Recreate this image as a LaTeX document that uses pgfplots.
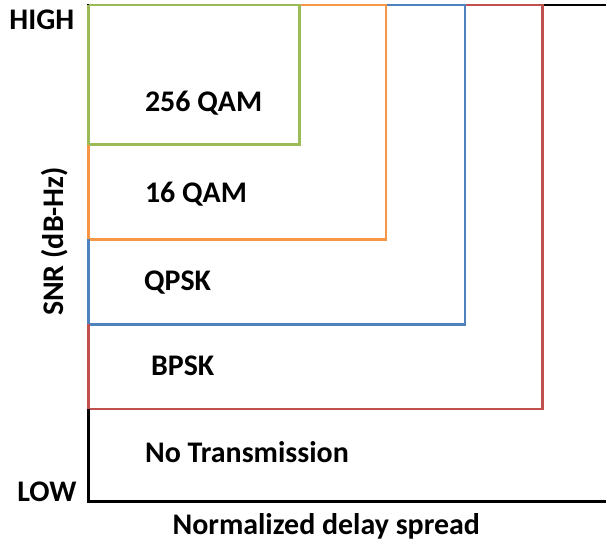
\documentclass[border=0pt]{standalone}
\usepackage{pgfplots}
\pgfplotsset{compat=1.18}
\usepackage{fontspec}
\setmainfont{Carlito}
\definecolor{cgreen}{RGB}{155,187,89}
\definecolor{corange}{RGB}{247,150,70}
\definecolor{cblue}{RGB}{79,129,189}
\definecolor{cred}{RGB}{192,80,77}
\begin{document}
\begin{tikzpicture}
\begin{axis}[
  scale only axis, width=259bp, height=249bp,
  xmin=0, xmax=518, ymin=0, ymax=498,
  hide axis, clip=false,
]
% region boundaries (pixel-like units)
\addplot[black, line width=1.4bp] coordinates {(518,498) (0,498) (0,0) (518,0)};
\addplot[cred, line width=1.3bp] coordinates {(0,498) (455,498) (455,93) (0,93)};
\addplot[cblue, line width=1.3bp] coordinates {(0,498) (377,498) (377,178) (0,178)};
\addplot[corange, line width=1.3bp] coordinates {(0,498) (298,498) (298,263) (0,263) (0,498)};
\addplot[cgreen, line width=1.3bp] coordinates {(0,498) (211,498) (211,358) (0,358) (0,498)};
\addplot[black, line width=1.4bp] coordinates {(0,0) (0,93)};
\addplot[cred, line width=1.3bp] coordinates {(0,93) (0,178)};
\addplot[cblue, line width=1.3bp] coordinates {(0,178) (0,263)};
\addplot[corange, line width=1.3bp] coordinates {(0,263) (0,358)};
\addplot[cgreen, line width=1.3bp] coordinates {(0,358) (0,498)};
\path (axis cs:-89,-45) rectangle (axis cs:518,503);
\begin{scope}[every node/.style={font=\fontsize{15bp}{17bp}\selectfont\bfseries, inner sep=0pt}]
\node[anchor=west] at (axis cs:56,400) {256 QAM};
\node[anchor=west] at (axis cs:56,308) {16 QAM};
\node[anchor=west] at (axis cs:55,220) {QPSK};
\node[anchor=west] at (axis cs:62,136) {BPSK};
\node[anchor=west] at (axis cs:56,50) {No Transmission};
\node at (axis cs:-47,483) {HIGH};
\node at (axis cs:-42,10) {LOW};
\node[rotate=90] at (axis cs:-34,261) {SNR (dB-Hz)};
\node at (axis cs:238,-25) {Normalized delay spread};
\end{scope}
\end{axis}
\end{tikzpicture}
\end{document}
